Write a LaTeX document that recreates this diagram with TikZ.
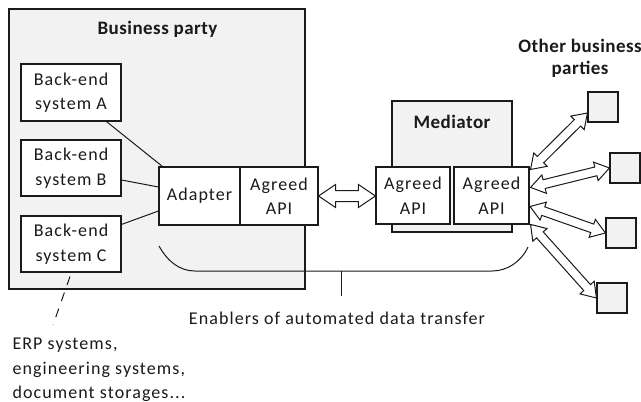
\documentclass[tikz,border=0pt]{standalone}
\usepackage{fontspec}
\setmainfont{Carlito}
\newfontfamily\regfont{Carlito}[LetterSpace=6]
\newfontfamily\bldfont{Carlito}[LetterSpace=2.5]
\usetikzlibrary{calc}
\definecolor{bg}{HTML}{F2F2F2}
\definecolor{ln}{HTML}{1A1A1A}
\newcommand\dblarr[5]{%
  \coordinate (pa) at ($(#1)!#3!(#2)$);
  \coordinate (pb) at ($(#2)!#3!(#1)$);
  \filldraw[arrowbody] (#1) -- ($(pa)!#4!90:(#2)$) -- ($(pa)!#5!90:(#2)$)
    -- ($(pb)!#5!-90:(#1)$) -- ($(pb)!#4!-90:(#1)$) -- (#2)
    -- ($(pb)!#4!90:(#1)$) -- ($(pb)!#5!90:(#1)$)
    -- ($(pa)!#5!-90:(#2)$) -- ($(pa)!#4!-90:(#2)$) -- cycle;
}
\begin{document}
\begin{tikzpicture}[x=1pt,y=-1pt,line width=1.1pt,
  txt/.style={text=ln,font=\regfont\fontsize{18}{24.5}\selectfont,align=center,inner sep=0pt},
  ttl/.style={text=ln,font=\bldfont\fontsize{19}{22}\selectfont\bfseries,align=center,inner sep=0pt},
  wbox/.style={draw=ln,fill=white,txt,inner sep=0pt},
  gbox/.style={draw=ln,fill=bg,inner sep=0pt},
  arrowbody/.style={draw=ln,fill=white,line width=1pt,line join=miter},
  conn/.style={draw=ln,line width=1pt}]
\useasboundingbox (0,0) rectangle (641,402);
% business party
\node[gbox,minimum width=296pt,minimum height=280pt] (bp) at (157,149) {};
\node[ttl] (bpt) at (157.5,29) {Business party};
\node[wbox,minimum width=100pt,minimum height=57pt] (A) at (71,92.5) {Back-end\\system A};
\node[wbox,minimum width=100pt,minimum height=56pt] (B) at (71,168) {Back-end\\system B};
\node[wbox,minimum width=100pt,minimum height=56pt] (C) at (71,244) {Back-end\\system C};
\node[wbox,minimum width=81pt,minimum height=58pt] (ad) at (199.5,196) {Adapter};
\node[wbox,minimum width=78pt,minimum height=58pt] (api1) at (279,196) {Agreed\\API};
% mediator
\node[gbox,minimum width=120pt,minimum height=131pt] (med) at (452,166.5) {};
\node[ttl] (medt) at (452,122) {Mediator};
\node[wbox,minimum width=74pt,minimum height=57pt] (api2) at (413,195.5) {Agreed\\API};
\node[wbox,minimum width=75pt,minimum height=57pt] (api3) at (491.5,195.5) {Agreed\\API};
% other parties
\node[ttl] (opt) at (580,58) {Other business\\parties};
\node[gbox,minimum width=30pt,minimum height=30pt] (s1) at (603,107) {};
\node[gbox,minimum width=30pt,minimum height=30pt] (s2) at (625,168) {};
\node[gbox,minimum width=30pt,minimum height=30pt] (s3) at (621,233) {};
\node[gbox,minimum width=30pt,minimum height=30pt] (s4) at (612,298) {};
% back-end connections
\draw[conn] ($(A.south west)+(86,0)$) -- ($(ad.north west)+(4,0)$);
\draw[conn] ($(B.east)+(0,12)$) -- ($(ad.west)+(0,-9)$);
\draw[conn] ($(C.north east)+(0,9)$) -- ($(ad.west)+(0,15)$);
% arrows
\coordinate (m1) at (api1.east);
\coordinate (m2) at (api2.west |- api1.east);
\dblarr{m1}{m2}{17pt}{11.5pt}{5.5pt}
\coordinate (r1) at ($(api3.north east)+(1,3)$);
\coordinate (r2) at ($(api3.north east)+(1,21)$);
\coordinate (r3) at ($(api3.north east)+(0.5,40)$);
\coordinate (r4) at ($(api3.north east)+(1,58)$);
\coordinate (t1) at ($(s1.west)+(0,6)$);
\dblarr{r1}{t1}{14pt}{9.5pt}{4.5pt}
\dblarr{r2}{s2.west}{14pt}{9.5pt}{4.5pt}
\dblarr{r3}{s3.west}{14pt}{9.5pt}{4.5pt}
\dblarr{r4}{s4.west}{14pt}{9.5pt}{4.5pt}
% enablers brace
\coordinate (bl) at (159,246);
\coordinate (br) at (528,247);
\draw[conn] (bl) .. controls (168,262) and (180,271) .. (195,271) -- (492,271)
  .. controls (507,271) and (521,262) .. (br);
\node[txt] (en) at (337,318) {Enablers of automated data transfer};
\coordinate (tk) at (341,271);
\draw[conn] (tk) -- (341,296);
% ERP note
\node[txt,align=left,anchor=west] (erp) at (12,370) {ERP systems,\\engineering systems,\\document storages...};
\coordinate (d1) at ($(C.south)+(-1,4)$);
\coordinate (d2) at (53,325);
\draw[conn,dash pattern=on 9pt off 8pt] (d1) -- (d2);
\end{tikzpicture}
\end{document}
